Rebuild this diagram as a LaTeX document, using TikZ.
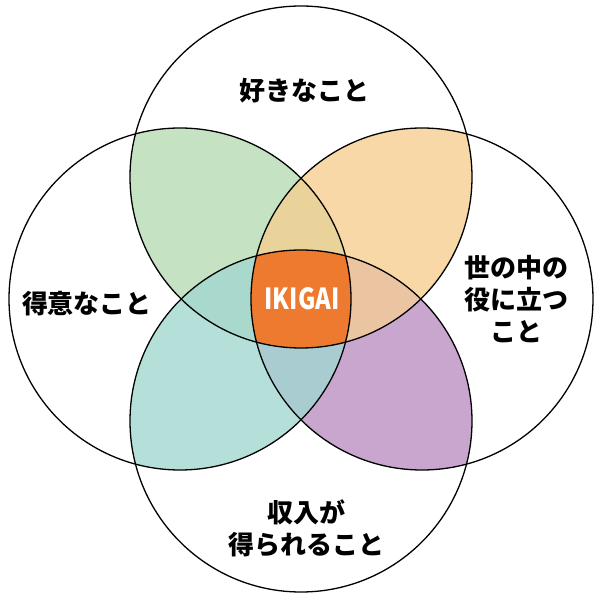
\documentclass[tikz,border=0pt]{standalone}
\usepackage{fontspec}
\usepackage{graphicx}
\newfontfamily\jp{Noto Sans CJK JP Black}
\newfontfamily\jpik{Noto Sans CJK JP}
\definecolor{cTL}{HTML}{C5E2C2}
\definecolor{cTR}{HTML}{F8D8A6}
\definecolor{cLB}{HTML}{B5E0DA}
\definecolor{cRB}{HTML}{C9A6CE}
\definecolor{cTLR}{HTML}{E9D39A}
\definecolor{cTLB}{HTML}{A9D8CC}
\definecolor{cTRB}{HTML}{EBC4A2}
\definecolor{cLRB}{HTML}{A9CCD0}
\definecolor{cAll}{HTML}{EE7A2F}
\begin{document}
\begin{tikzpicture}[x=1pt,y=-1pt,
  lbl/.style={font=\jp\fontsize{26}{32}\selectfont, align=center, inner sep=0pt},
  ring/.style={draw=black, line width=1.3pt}]
\useasboundingbox (0,0) rectangle (606,601);
\def\R{171pt}
\coordinate (T) at (301,177);
\coordinate (L) at (180,299);
\coordinate (Q) at (422,299);
\coordinate (B) at (301,421);
\fill[white] (0,0) rectangle (606,601);
% pairwise petals
\begin{scope}\clip (T) circle[radius=\R]; \fill[cTL] (L) circle[radius=\R]; \end{scope}
\begin{scope}\clip (T) circle[radius=\R]; \fill[cTR] (Q) circle[radius=\R]; \end{scope}
\begin{scope}\clip (B) circle[radius=\R]; \fill[cLB] (L) circle[radius=\R]; \end{scope}
\begin{scope}\clip (B) circle[radius=\R]; \fill[cRB] (Q) circle[radius=\R]; \end{scope}
% triples
\begin{scope}\clip (T) circle[radius=\R]; \clip (L) circle[radius=\R]; \fill[cTLR] (Q) circle[radius=\R]; \end{scope}
\begin{scope}\clip (T) circle[radius=\R]; \clip (L) circle[radius=\R]; \fill[cTLB] (B) circle[radius=\R]; \end{scope}
\begin{scope}\clip (T) circle[radius=\R]; \clip (Q) circle[radius=\R]; \fill[cTRB] (B) circle[radius=\R]; \end{scope}
\begin{scope}\clip (B) circle[radius=\R]; \clip (L) circle[radius=\R]; \fill[cLRB] (Q) circle[radius=\R]; \end{scope}
% all four
\begin{scope}\clip (T) circle[radius=\R]; \clip (L) circle[radius=\R]; \clip (Q) circle[radius=\R]; \fill[cAll] (B) circle[radius=\R]; \end{scope}
% outlines
\draw[ring] (T) circle[radius=\R];
\draw[ring] (L) circle[radius=\R];
\draw[ring] (Q) circle[radius=\R];
\draw[ring] (B) circle[radius=\R];
% labels
\node[lbl] (top) at (304,91) {好きなこと};
\node[lbl] (left) at (87,304) {得意なこと};
\node[lbl] (right) at (516,299) {世の中の\\役に立つ\\こと};
\node[lbl] (bottom) at (306,528) {収入が\\得られること};
\node[font=\jpik\bfseries\fontsize{29}{32}\selectfont, text=white, inner sep=0pt] (center) at (302,299) {\scalebox{0.82}[1]{IKIGAI}};
\end{tikzpicture}
\end{document}
